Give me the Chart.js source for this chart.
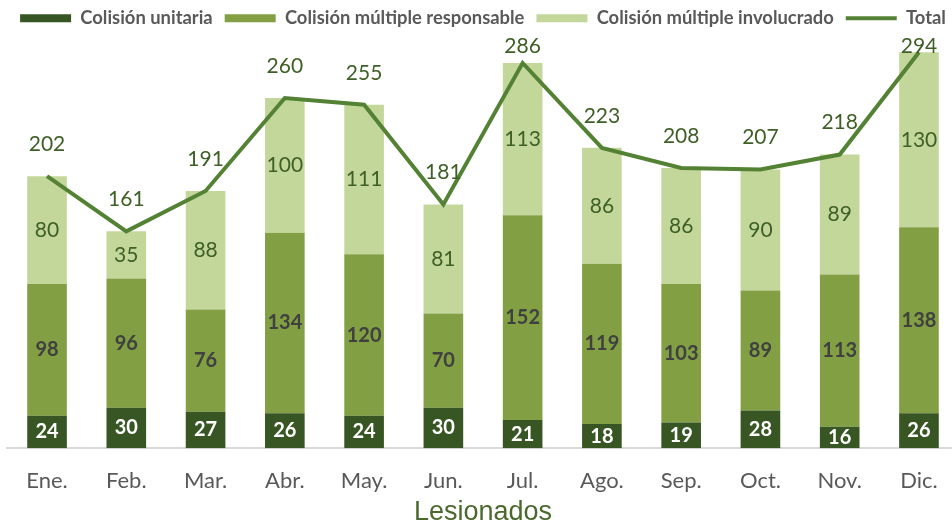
<!DOCTYPE html>
<html lang="es">
<head>
<meta charset="utf-8">
<title>Lesionados por mes</title>
<script src="https://cdn.jsdelivr.net/npm/chart.js@4.4.1/dist/chart.umd.min.js"></script>
<style>
  html, body { margin: 0; padding: 0; background: #ffffff; overflow: hidden; }
  #wrap { width: 960px; height: 523px; }
</style>
</head>
<body>
<div id="wrap"><canvas id="chart" width="960" height="523"></canvas></div>
<script>
// Meses
const months = ['Ene.', 'Feb.', 'Mar.', 'Abr.', 'May.', 'Jun.', 'Jul.', 'Ago.', 'Sep.', 'Oct.', 'Nov.', 'Dic.'];

// Lesionados por tipo de colisión
const colisionUnitaria = [24, 30, 27, 26, 24, 30, 21, 18, 19, 28, 16, 26];
const colisionMultipleResponsable = [98, 96, 76, 134, 120, 70, 152, 119, 103, 89, 113, 138];
const colisionMultipleInvolucrado = [80, 35, 88, 100, 111, 81, 113, 86, 86, 90, 89, 130];
const totalLesionados = [202, 161, 191, 260, 255, 181, 286, 223, 208, 207, 218, 294];

const FONT = 'Lato, "Open Sans", sans-serif';

// Etiquetas de valor dentro de cada segmento y sobre la línea del total
const valueLabels = {
  id: 'valueLabels',
  afterDatasetsDraw(chart) {
    const ctx = chart.ctx;
    ctx.save();
    ctx.textAlign = 'center';
    ctx.textBaseline = 'middle';
    chart.data.datasets.forEach((ds, di) => {
      const meta = chart.getDatasetMeta(di);
      if (meta.hidden) return;
      const st = ds.labelStyle;
      ctx.font = st.font;
      ctx.fillStyle = st.color;
      meta.data.forEach((el, i) => {
        const v = ds.data[i];
        let y;
        if (meta.type === 'bar') {
          y = (el.y + el.base) / 2;
        } else {
          y = Math.max(el.y - 32, chart.chartArea.top + 9);
        }
        ctx.fillText(String(v), el.x, y);
      });
    });
    ctx.restore();
  }
};

const ctx = document.getElementById('chart').getContext('2d');
new Chart(ctx, {
  data: {
    labels: months,
    datasets: [
      {
        type: 'bar',
        label: 'Colisión unitaria',
        data: colisionUnitaria,
        backgroundColor: '#375623',
        pointStyle: 'rect',
        labelStyle: { font: 'bold 20px ' + FONT, color: '#ffffff' }
      },
      {
        type: 'bar',
        label: 'Colisión múltiple responsable',
        data: colisionMultipleResponsable,
        backgroundColor: '#82a043',
        pointStyle: 'rect',
        labelStyle: { font: 'bold 20px ' + FONT, color: '#404040' }
      },
      {
        type: 'bar',
        label: 'Colisión múltiple involucrado',
        data: colisionMultipleInvolucrado,
        backgroundColor: '#c4d79b',
        pointStyle: 'rect',
        labelStyle: { font: '21px ' + FONT, color: '#3e5f26' }
      },
      {
        type: 'line',
        label: 'Total',
        data: totalLesionados,
        borderColor: '#548235',
        backgroundColor: '#548235',
        borderWidth: 4,
        tension: 0,
        pointRadius: 0,
        pointHoverRadius: 0,
        pointStyle: 'line',
        order: -1,
        labelStyle: { font: '21px ' + FONT, color: '#3e5f26' }
      }
    ]
  },
  options: {
    responsive: false,
    animation: false,
    events: [],
    layout: { padding: { top: -3, left: 7.4, right: 1.4, bottom: 0 } },
    datasets: {
      bar: { categoryPercentage: 1.0, barPercentage: 0.5, borderWidth: 0 }
    },
    scales: {
      x: {
        stacked: true,
        grid: { display: false, drawTicks: false },
        border: { display: true, color: '#d9d9d9', width: 2 },
        ticks: {
          color: '#595959',
          font: { family: FONT, size: 22 },
          padding: 20
        },
        title: {
          display: true,
          text: 'Lesionados',
          color: '#4b692d',
          font: { family: '"Liberation Sans", Arial, sans-serif', size: 27 },
          padding: { top: -18, bottom: -6 }
        }
      },
      y: {
        stacked: true,
        display: false,
        min: 0,
        max: 305
      }
    },
    plugins: {
      legend: {
        position: 'top',
        align: 'center',
        labels: {
          usePointStyle: true,
          pointStyleWidth: 51,
          boxHeight: 8,
          padding: 12,
          color: '#595959',
          font: { family: FONT, size: 18.4, weight: 'bold' },
          sort: (a, b) => a.datasetIndex - b.datasetIndex
        }
      },
      tooltip: { enabled: false }
    }
  },
  plugins: [valueLabels]
});
</script>
</body>
</html>
